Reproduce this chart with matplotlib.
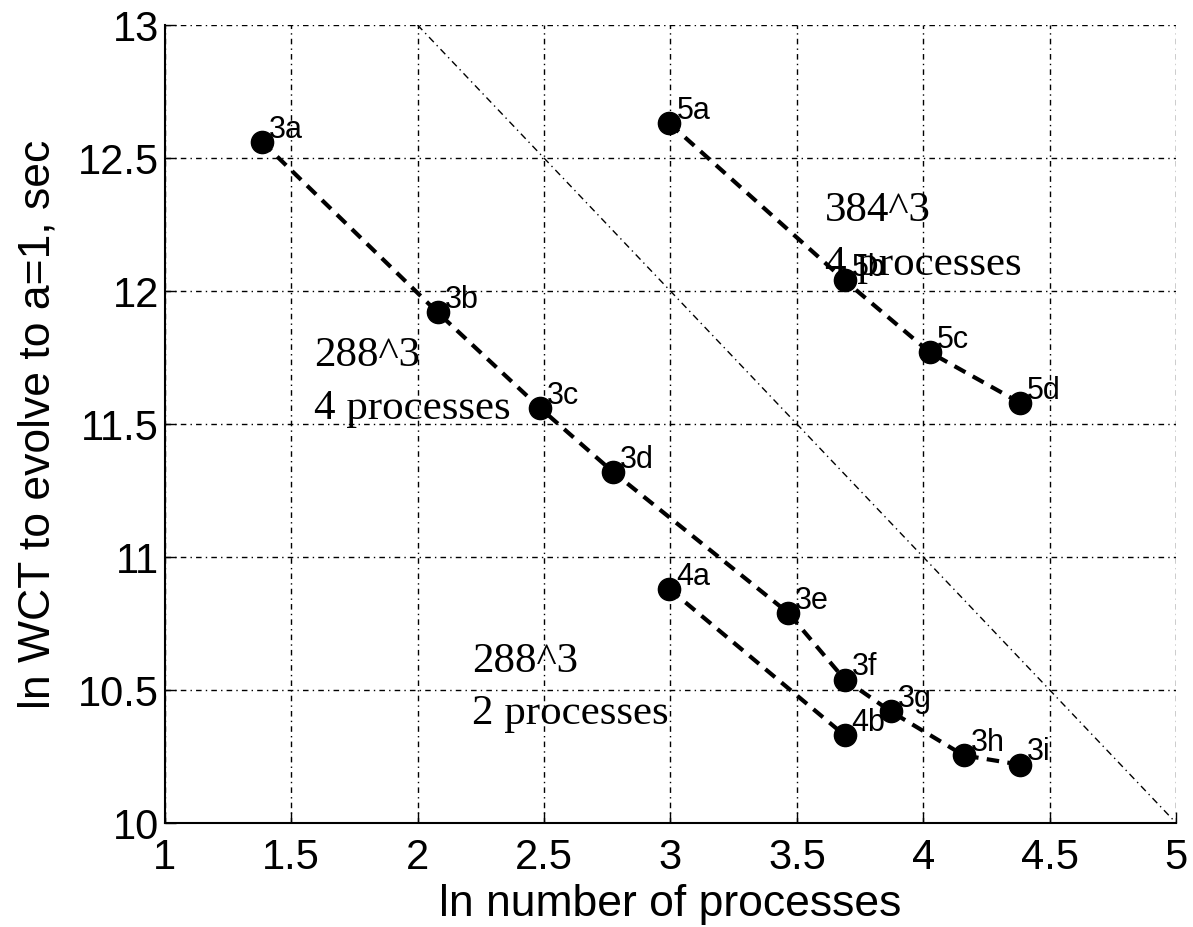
import numpy as np
import matplotlib
matplotlib.use('Agg')
import matplotlib.pyplot as plt

plt.rcParams['font.family'] = ['Liberation Sans', 'DejaVu Sans']

# ln(number of processes) and ln(wall clock time) for each run group
x_288_4 = [1.386, 2.079, 2.485, 2.773, 3.466, 3.689, 3.871, 4.159, 4.382]
y_288_4 = [12.56, 11.92, 11.56, 11.32, 10.79, 10.54, 10.42, 10.255, 10.22]
names_288_4 = ['3a', '3b', '3c', '3d', '3e', '3f', '3g', '3h', '3i']

x_288_2 = [2.996, 3.689]
y_288_2 = [10.88, 10.33]
names_288_2 = ['4a', '4b']

x_384_4 = [2.996, 3.689, 4.025, 4.382]
y_384_4 = [12.63, 12.04, 11.77, 11.58]
names_384_4 = ['5a', '5b', '5c', '5d']

# ideal scaling line (slope -1)
ideal_x = [2, 5]
ideal_y = [13, 10]

xticks = [1, 1.5, 2, 2.5, 3, 3.5, 4, 4.5, 5]
yticks = [10, 10.5, 11, 11.5, 12, 12.5, 13]

fig = plt.figure(figsize=(11.93, 9.27), dpi=100)
ax = fig.add_axes([0.138, 0.112, 0.848, 0.861])

ax.plot(ideal_x, ideal_y, color='black', lw=1.0, linestyle=(0, (5, 3, 1, 3)))

for xs, ys, names in [(x_288_4, y_288_4, names_288_4),
                      (x_288_2, y_288_2, names_288_2),
                      (x_384_4, y_384_4, names_384_4)]:
    ax.plot(xs, ys, color='black', lw=3.0, dashes=(3, 2),
            marker='o', markersize=16, markerfacecolor='black',
            markeredgecolor='black', zorder=3)
    for xi, yi, nm in zip(xs, ys, names):
        ax.annotate(nm, (xi, yi), xytext=(5, 3), textcoords='offset points',
                    ha='left', va='baseline', fontsize=22, zorder=4)

# run group captions
serif = ['Liberation Serif', 'DejaVu Serif']
cap = dict(family=serif, fontsize=31, va='baseline')
ax.text(1.59, 11.72, '288^3', **cap)
ax.text(1.59, 11.52, '4 processes', **cap)
ax.text(3.61, 12.265, '384^3', **cap)
ax.text(3.61, 12.06, '4 processes', **cap)
ax.text(2.215, 10.57, '288^3', **cap)
ax.text(2.215, 10.373, '2 processes', **cap)

ax.set_xlim(1, 5)
ax.set_ylim(10, 13)
ax.set_xticks(xticks)
ax.set_yticks(yticks)
ax.set_xticklabels(['1', '1.5', '2', '2.5', '3', '3.5', '4', '4.5', '5'])
ax.set_yticklabels(['10', '10.5', '11', '11.5', '12', '12.5', '13'])
ax.tick_params(direction='in', length=8, width=1, labelsize=30)
ax.tick_params(axis='x', pad=11)
ax.tick_params(axis='y', pad=4)

ax.grid(True, color='black', lw=1.0, linestyle=(0, (4, 3, 1, 3)))
ax.set_axisbelow(True)
ax.spines['top'].set_visible(False)
ax.spines['right'].set_visible(False)
ax.spines['left'].set_linewidth(1.5)
ax.spines['bottom'].set_linewidth(1.5)

ax.set_xlabel('ln number of processes', fontsize=32, labelpad=4)
ax.set_ylabel('ln WCT to evolve to a=1, sec', fontsize=32, labelpad=14)

fig.savefig('out.png', dpi=100)
